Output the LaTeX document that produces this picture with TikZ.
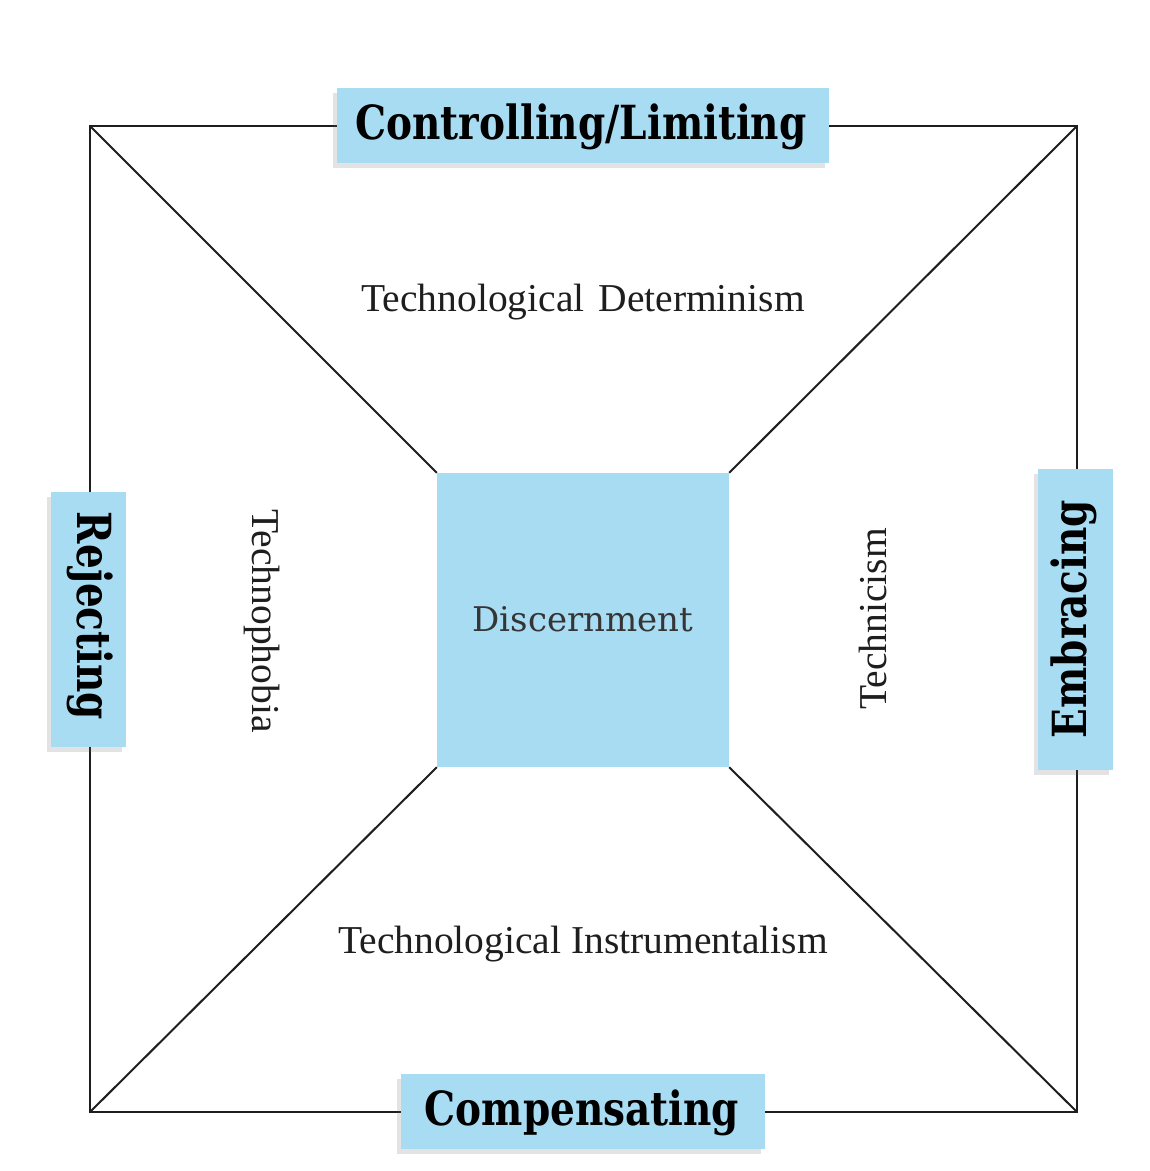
\documentclass[tikz,border=0pt]{standalone}
\usepackage{fontspec}
\setmainfont{Liberation Serif}
\newfontfamily\slab{DejaVu Serif}
\usetikzlibrary{shadows}
\definecolor{boxblue}{RGB}{168,220,243}
\definecolor{ink}{RGB}{30,30,30}
\tikzset{
  edge/.style={draw=ink, line width=2pt},
  tag/.style={fill=boxblue, inner sep=0pt, text=ink,
    drop shadow={shadow xshift=-4pt, shadow yshift=-5pt, opacity=0.18, fill=black!60}},
  tagtext/.style={font=\slab\bfseries\fontsize{47}{47}\selectfont},
  zone/.style={text=ink, font=\fontsize{39.5}{39.5}\selectfont, inner sep=0pt},
}
\newcommand{\squeeze}[1]{\scalebox{0.83}[1]{#1}}
\begin{document}
\begin{tikzpicture}[x=1pt,y=-1pt]
\useasboundingbox[fill=white] (0,0) rectangle (1150,1171);
\coordinate (tl) at (90,126);
\coordinate (tr) at (1077,126);
\coordinate (br) at (1077,1112);
\coordinate (bl) at (90,1112);
\node[fill=boxblue, minimum width=292pt, minimum height=294pt, inner sep=0pt] (disc) at (583,620) {};
\node[text=ink!90, font=\slab\fontsize{34}{34}\selectfont] (disclabel) at (583,619) {Discernment};
\draw[edge] (tl) -- (tr) -- (br) -- (bl) -- cycle;
\draw[edge] (tl) -- (disc.north west);
\draw[edge] (tr) -- (disc.north east);
\draw[edge] (br) -- (disc.south east);
\draw[edge] (bl) -- (disc.south west);
\node[tag, minimum width=492pt, minimum height=75pt] (ctrl) at (583,125.5) {};
\node[tagtext] (ctrltext) at (581,127) {\squeeze{Controlling/Limiting}};
\node[tag, minimum width=364pt, minimum height=75pt] (comp) at (583,1111.5) {};
\node[tagtext] (comptext) at (582,1113) {\squeeze{Compensating}};
\node[tag, minimum width=75pt, minimum height=255pt] (rej) at (88.5,619.5) {};
\node[tagtext, rotate=-90] (rejtext) at (90,616) {\squeeze{Rejecting}};
\node[tag, minimum width=75pt, minimum height=301pt] (emb) at (1075.5,619.5) {};
\node[tagtext, rotate=90] (embtext) at (1074,619) {\squeeze{Embracing}};
\node[zone] (det) at (583,302) {Technological\hspace{14pt}Determinism};
\node[zone] (inst) at (583,944) {Technological Instrumentalism};
\node[zone, rotate=-90] (phob) at (262,621) {Technophobia};
\node[zone, rotate=90] (tcism) at (873,619) {Technicism};
\end{tikzpicture}
\end{document}
